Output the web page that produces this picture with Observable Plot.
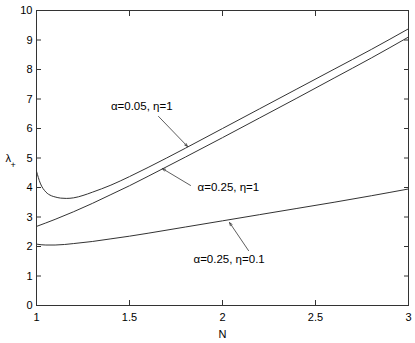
<!DOCTYPE html>
<html>
<head>
<meta charset="utf-8">
<script src="https://cdn.jsdelivr.net/npm/d3@7"></script>
<script src="https://cdn.jsdelivr.net/npm/@observablehq/plot@0.6"></script>
<style>
  html, body { margin: 0; padding: 0; background: #fff; }
</style>
</head>
<body>
<div id="chart"></div>
<script>
// Curve A: alpha=0.05, eta=1
const nA = [1, 1.02, 1.05, 1.08, 1.1, 1.13, 1.16, 1.2, 1.25, 1.3, 1.4, 1.5, 1.6, 1.8, 2.0, 2.2, 2.4, 2.6, 2.8, 3.0];
const valA = [4.55, 4.15, 3.85, 3.72, 3.68, 3.64, 3.63, 3.65, 3.73, 3.84, 4.08, 4.37, 4.68, 5.33, 6.0, 6.67, 7.34, 8.01, 8.68, 9.38];
// Curve B: alpha=0.25, eta=1
const nB = [1, 1.1, 1.2, 1.3, 1.4, 1.5, 1.6, 1.8, 2.0, 2.2, 2.4, 2.6, 2.8, 3.0];
const valB = [2.68, 2.92, 3.18, 3.46, 3.76, 4.06, 4.38, 5.03, 5.69, 6.36, 7.03, 7.71, 8.39, 9.1];
// Curve C: alpha=0.25, eta=0.1
const nC = [1, 1.05, 1.1, 1.2, 1.3, 1.4, 1.5, 1.6, 1.8, 2.0, 2.2, 2.4, 2.6, 2.8, 3.0];
const valC = [2.08, 2.05, 2.05, 2.1, 2.17, 2.26, 2.35, 2.45, 2.66, 2.87, 3.08, 3.29, 3.5, 3.72, 3.95];

const xTicks = [1, 1.5, 2, 2.5, 3];
const yTicks = [0, 1, 2, 3, 4, 5, 6, 7, 8, 9, 10];

// annotations
const labels = ["α=0.05, η=1", "α=0.25, η=1", "α=0.25, η=0.1"];
const labelN = [1.40, 1.866, 1.844];
const labelV = [6.75, 4.0, 1.56];
const arrowN1 = [1.656, 1.828, 2.14];
const arrowV1 = [6.41, 4.07, 1.86];
const arrowN2 = [1.812, 1.677, 2.038];
const arrowV2 = [5.39, 4.64, 2.81];

const rows = [];
nA.forEach((n, i) => rows.push({series: "A", N: n, v: valA[i]}));
nB.forEach((n, i) => rows.push({series: "B", N: n, v: valB[i]}));
nC.forEach((n, i) => rows.push({series: "C", N: n, v: valC[i]}));
const ann = labels.map((t, i) => ({t, n: labelN[i], v: labelV[i], n1: arrowN1[i], v1: arrowV1[i], n2: arrowN2[i], v2: arrowV2[i]}));

const axisColor = "#333";
const chart = Plot.plot({
  width: 415,
  height: 343,
  marginLeft: 36,
  marginRight: 7,
  marginTop: 10,
  marginBottom: 38,
  style: {fontFamily: "'Liberation Sans', Arial, Helvetica, sans-serif", fontSize: "11px", color: "#000", background: "#fff"},
  x: {domain: [1, 3]},
  y: {domain: [0, 10]},
  marks: [
    Plot.frame({stroke: axisColor, strokeWidth: 1}),
    Plot.axisX({ticks: xTicks, tickSize: 0, tickPadding: 8, label: null, tickFormat: d => String(d), fill: "#000"}),
    Plot.axisX({anchor: "bottom", ticks: xTicks, tickSize: -5, text: null, label: null, stroke: axisColor}),
    Plot.axisX({anchor: "top", ticks: xTicks, tickSize: -5, text: null, label: null, stroke: axisColor}),
    Plot.axisY({ticks: yTicks, tickSize: 0, tickPadding: 4, label: null, fill: "#000"}),
    Plot.axisY({anchor: "left", ticks: yTicks, tickSize: -5, text: null, label: null, stroke: axisColor}),
    Plot.axisY({anchor: "right", ticks: yTicks, tickSize: -5, text: null, label: null, stroke: axisColor}),
    Plot.line(rows, {x: "N", y: "v", z: "series", stroke: "#333", strokeWidth: 1, curve: "monotone-x"}),
    Plot.arrow(ann, {x1: "n1", y1: "v1", x2: "n2", y2: "v2", stroke: "#333", strokeWidth: 0.8, headLength: 6, headAngle: 40}),
    Plot.text(ann, {x: "n", y: "v", text: "t", textAnchor: "start", fontSize: 11.5, fill: "#000"}),
    Plot.text(["N"], {frameAnchor: "bottom", dy: 32, fontSize: 11, fill: "#000"}),
    Plot.text(["λ"], {frameAnchor: "left", y: [5.0], dx: -31, fontSize: 11, fill: "#000"}),
    Plot.text(["+"], {frameAnchor: "left", y: [5.0], dx: -26, dy: 7, fontSize: 9, fill: "#000"})
  ]
});
document.getElementById("chart").appendChild(chart);
</script>
</body>
</html>
